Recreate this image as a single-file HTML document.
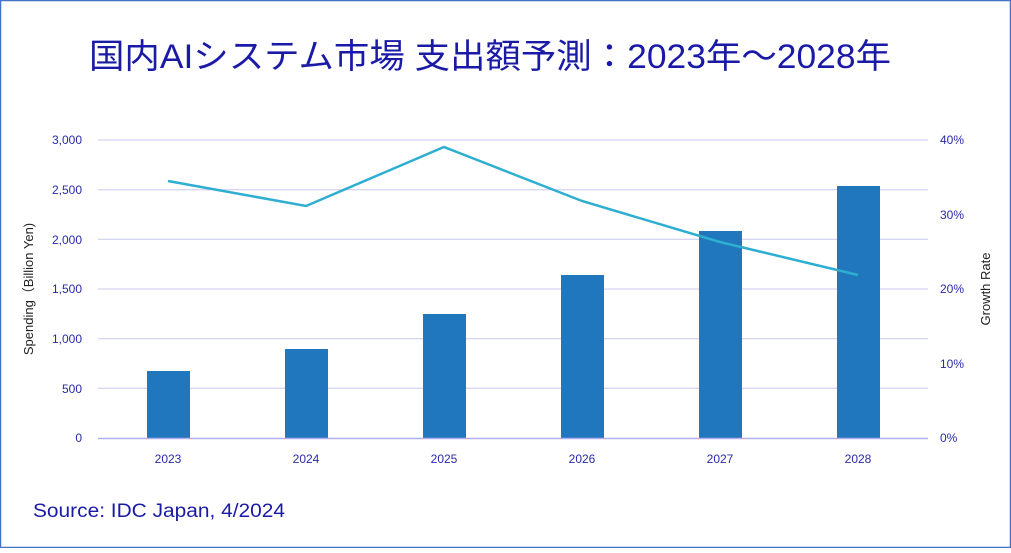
<!DOCTYPE html>
<html><head><meta charset="utf-8"><style>
html,body{margin:0;padding:0;background:#fff}
body{width:1011px;height:548px;overflow:hidden}
</style></head><body>
<svg width="1011" height="548" xmlns="http://www.w3.org/2000/svg" font-family="'Liberation Sans','Noto Sans CJK JP',sans-serif">
<rect x="0.5" y="0.5" width="1010" height="547" fill="#fff" stroke="#4472c4" stroke-width="1.5"/>
<text x="89" y="68" font-size="34" fill="#1a1aa6" textLength="802" lengthAdjust="spacingAndGlyphs">国内AIシステム市場 支出額予測：2023年～2028年</text>
<g stroke="#c8c8ee" stroke-width="1">
<line x1="98" x2="928" y1="140" y2="140"/><line x1="98" x2="928" y1="189.7" y2="189.7"/>
<line x1="98" x2="928" y1="239.3" y2="239.3"/><line x1="98" x2="928" y1="289" y2="289"/>
<line x1="98" x2="928" y1="338.7" y2="338.7"/><line x1="98" x2="928" y1="388.3" y2="388.3"/>
</g>
<g fill="#2077bd">
<rect x="147" y="371" width="43" height="67"/>
<rect x="285" y="349" width="43" height="89"/>
<rect x="423" y="314" width="43" height="124"/>
<rect x="561" y="275" width="43" height="163"/>
<rect x="699" y="231" width="43" height="207"/>
<rect x="837" y="186" width="43" height="252"/>
</g>
<line x1="98" x2="928" y1="438.5" y2="438.5" stroke="#b0b0ee" stroke-width="1.5"/>
<polyline points="168,181 306,206 444,147 582,201 720,242 858,275" fill="none" stroke="#2eaed0" stroke-width="2.5"/>
<g font-size="12" fill="#2a2aa6" text-anchor="end">
<text x="82" y="144">3,000</text><text x="82" y="194">2,500</text><text x="82" y="244">2,000</text>
<text x="82" y="293">1,500</text><text x="82" y="343">1,000</text><text x="82" y="393">500</text><text x="82" y="442">0</text>
</g>
<g font-size="12" fill="#2a2aa6" text-anchor="start">
<text x="940" y="144">40%</text><text x="940" y="219">30%</text><text x="940" y="293">20%</text>
<text x="940" y="368">10%</text><text x="940" y="442">0%</text>
</g>
<g font-size="12" fill="#2a2aa6" text-anchor="middle">
<text x="168" y="463">2023</text><text x="306" y="463">2024</text><text x="444" y="463">2025</text>
<text x="582" y="463">2026</text><text x="720" y="463">2027</text><text x="858" y="463">2028</text>
</g>
<text transform="translate(33,289) rotate(-90)" text-anchor="middle" font-size="13" fill="#222">Spending（Billion Yen)</text>
<text transform="translate(990,289) rotate(-90)" text-anchor="middle" font-size="13" fill="#222">Growth Rate</text>
<text x="33" y="517" font-size="19" fill="#1a1aa6" textLength="252" lengthAdjust="spacingAndGlyphs">Source: IDC Japan, 4/2024</text>
</svg>
</body></html>
